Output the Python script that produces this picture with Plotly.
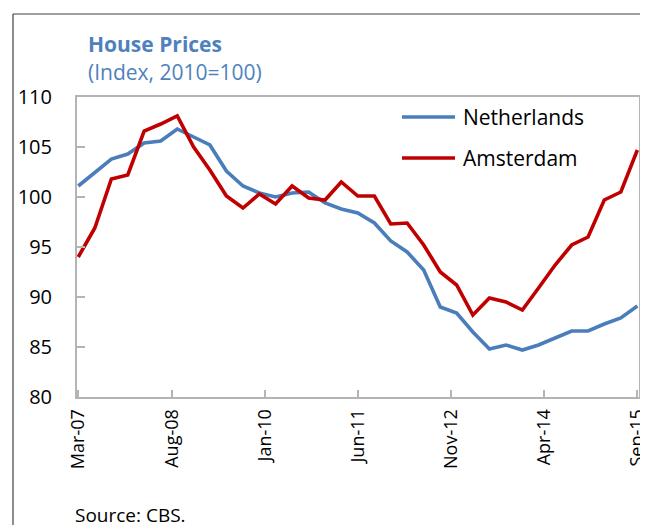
import plotly.graph_objects as go

quarters = [
    "2007-03-01", "2007-06-01", "2007-09-01", "2007-12-01",
    "2008-03-01", "2008-06-01", "2008-09-01", "2008-12-01",
    "2009-03-01", "2009-06-01", "2009-09-01", "2009-12-01",
    "2010-03-01", "2010-06-01", "2010-09-01", "2010-12-01",
    "2011-03-01", "2011-06-01", "2011-09-01", "2011-12-01",
    "2012-03-01", "2012-06-01", "2012-09-01", "2012-12-01",
    "2013-03-01", "2013-06-01", "2013-09-01", "2013-12-01",
    "2014-03-01", "2014-06-01", "2014-09-01", "2014-12-01",
    "2015-03-01", "2015-06-01", "2015-09-01",
]

netherlands = [
    101.1, 102.4, 103.8, 104.3, 105.4, 105.6, 106.8, 106.0, 105.2, 102.6,
    101.1, 100.4, 100.0, 100.4, 100.5, 99.4, 98.8, 98.4, 97.4, 95.6,
    94.5, 92.7, 89.0, 88.4, 86.5, 84.8, 85.2, 84.7, 85.2, 85.9,
    86.6, 86.6, 87.3, 87.9, 89.1,
]

amsterdam = [
    94.0, 96.9, 101.8, 102.2, 106.6, 107.3, 108.1, 105.0, 102.7, 100.1,
    98.9, 100.3, 99.3, 101.1, 99.9, 99.7, 101.5, 100.1, 100.1, 97.3,
    97.4, 95.2, 92.5, 91.2, 88.2, 89.9, 89.5, 88.7, 90.9, 93.2,
    95.2, 96.0, 99.7, 100.5, 104.7,
]

series_names = ["Netherlands", "Amsterdam"]
series_colors = ["#4A7EBB", "#C00000"]

tick_dates = ["2007-03-01", "2008-08-01", "2010-01-01", "2011-06-01",
              "2012-11-01", "2014-04-01", "2015-09-01"]
tick_labels = ["Mar-07", "Aug-08", "Jan-10", "Jun-11", "Nov-12", "Apr-14", "Sep-15"]
y_ticks = [80, 85, 90, 95, 100, 105, 110]

title_text = "House Prices"
subtitle_text = "(Index, 2010=100)"
source_text = "Source: CBS."

FONT = "Open Sans"
AXIS_GREY = "#B4B4B4"

fig = go.Figure()
for name, vals, col in zip(series_names, [netherlands, amsterdam], series_colors):
    fig.add_trace(go.Scatter(x=quarters, y=vals, mode="lines", name=name,
                             line=dict(color=col, width=3.6), showlegend=False))

fig.update_layout(
    width=640, height=517,
    margin=dict(l=69, r=9, t=89, b=128, autoexpand=False),
    paper_bgcolor="white", plot_bgcolor="white",
    font=dict(family=FONT, size=20, color="black"),
    xaxis=dict(
        type="date", range=["2007-02-22", "2015-09-10"], automargin=False,
        ticklabeloverflow="allow",
        tickvals=tick_dates, ticktext=tick_labels, tickangle=-90,
        ticks="inside", ticklen=7, tickwidth=2, tickcolor=AXIS_GREY,
        showline=True, linecolor=AXIS_GREY, linewidth=2, mirror=True,
        showgrid=False, zeroline=False, ticklabelstandoff=3,
        tickfont=dict(family=FONT, size=18),
    ),
    yaxis=dict(
        range=[80, 110], tickvals=y_ticks, automargin=False,
        ticks="inside", ticklen=8, tickwidth=2, tickcolor=AXIS_GREY,
        showline=True, linecolor=AXIS_GREY, linewidth=2, mirror=True,
        showgrid=False, zeroline=False, ticklabelstandoff=19,
        tickfont=dict(family=FONT, size=20),
    ),
)

# outer frame (left and top edges)
fig.add_shape(type="line", xref="paper", yref="paper", x0=-0.1139, x1=1.2,
              y0=1.2767, y1=1.2767, line=dict(color="#404040", width=1.2))
fig.add_shape(type="line", xref="paper", yref="paper", x0=-0.1139, x1=-0.1139,
              y0=1.2767, y1=-0.5, line=dict(color="#404040", width=1.2))

# title
fig.add_annotation(text="<b>" + title_text + "</b>", xref="paper", yref="paper",
                   x=0.016, y=1.1767, xanchor="left", yanchor="middle", showarrow=False,
                   font=dict(family=FONT, size=21, color="#4F81BD"))
fig.add_annotation(text=subtitle_text, xref="paper", yref="paper",
                   x=0.016, y=1.0833, xanchor="left", yanchor="middle", showarrow=False,
                   font=dict(family=FONT, size=21, color="#4F81BD"))

# legend (manual)
leg_y = [0.9333, 0.7967]
for name, col, ly in zip(series_names, series_colors, leg_y):
    fig.add_shape(type="line", xref="paper", yref="paper", x0=0.5783, x1=0.6726,
                  y0=ly, y1=ly, line=dict(color=col, width=3.6))
    fig.add_annotation(text=name, xref="paper", yref="paper", x=0.683, y=ly,
                       xanchor="left", yanchor="middle", showarrow=False,
                       font=dict(family=FONT, size=21, color="black"))

fig.add_annotation(text=source_text, xref="paper", yref="paper", x=-0.008, y=-0.393,
                   xanchor="left", yanchor="middle", showarrow=False,
                   font=dict(family=FONT, size=19, color="black"))

fig.write_html("out.html")
